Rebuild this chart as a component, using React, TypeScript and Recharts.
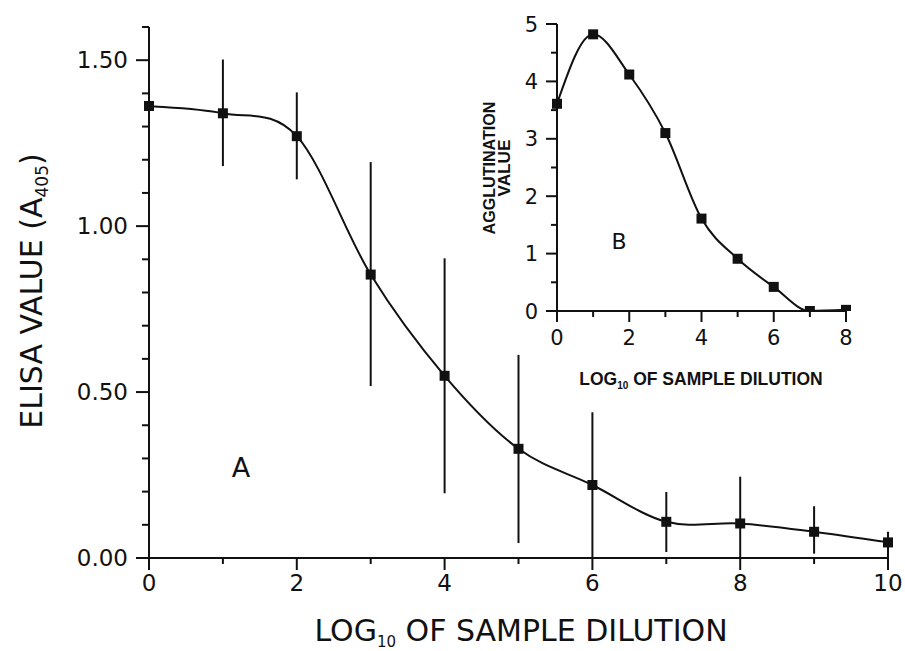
import { LineChart, Line, XAxis, YAxis, ErrorBar } from "recharts";

// panel A: ELISA value vs log10 dilution (mean with error range)
const dilutionA = [0, 1, 2, 3, 4, 5, 6, 7, 8, 9, 10];
const elisaMean = [1.362, 1.34, 1.271, 0.854, 0.549, 0.329, 0.22, 0.109, 0.104, 0.079, 0.047];
const elisaHigh = [1.362, 1.502, 1.403, 1.193, 0.903, 0.612, 0.439, 0.199, 0.245, 0.156, 0.079];
const elisaLow = [1.362, 1.181, 1.141, 0.518, 0.195, 0.045, 0.0, 0.018, 0.0, 0.013, 0.0];
const elisaTicks = [0, 0.1, 0.2, 0.3, 0.4, 0.5, 0.6, 0.7, 0.8, 0.9, 1.0, 1.1, 1.2, 1.3, 1.4, 1.5, 1.6];
const elisaLabels = ["0.00", "0.50", "1.00", "1.50"];
const dilutionTicksA = [0, 1, 2, 3, 4, 5, 6, 7, 8, 9, 10];

// panel B (inset): agglutination value
const dilutionB = [0, 1, 2, 3, 4, 5, 6, 7, 8];
const agglutination = [3.61, 4.82, 4.12, 3.1, 1.61, 0.91, 0.42, 0.0, 0.02];
const agglTicks = [0, 0.5, 1, 1.5, 2, 2.5, 3, 3.5, 4, 4.5, 5];
const dilutionTicksB = [0, 1, 2, 3, 4, 5, 6, 7, 8];

const INK = "#111";
const TICK_FONT = "'DejaVu Sans', sans-serif";

const dataA = dilutionA.map((x, i) => ({
  x,
  elisa: elisaMean[i],
  err: [elisaMean[i] - elisaLow[i], elisaHigh[i] - elisaMean[i]],
}));
const dataB = dilutionB.map((x, i) => ({ x, aggl: agglutination[i] }));

// catmull-rom style smoothing, closer to the old plotting package than "natural"
function smoothCurve(context: any) {
  let pts: number[][] = [];
  return {
    areaStart() {},
    areaEnd() {},
    lineStart() {
      pts = [];
    },
    point(x: number, y: number) {
      pts.push([+x, +y]);
    },
    lineEnd() {
      const n = pts.length;
      if (!n) return;
      context.moveTo(pts[0][0], pts[0][1]);
      for (let i = 0; i < n - 1; i++) {
        const p0 = pts[Math.max(i - 1, 0)];
        const p1 = pts[i];
        const p2 = pts[i + 1];
        const p3 = pts[Math.min(i + 2, n - 1)];
        context.bezierCurveTo(
          p1[0] + (p2[0] - p0[0]) / 6,
          p1[1] + (p2[1] - p0[1]) / 6,
          p2[0] - (p3[0] - p1[0]) / 6,
          p2[1] - (p3[1] - p1[1]) / 6,
          p2[0],
          p2[1]
        );
      }
    },
  };
}

const square = (size: number) => (p: any) => (
  <rect
    key={`sq-${p.index}`}
    x={p.cx - size / 2}
    y={p.cy - size / 2}
    width={size}
    height={size}
    fill={INK}
  />
);

function makeYTick(opts: {
  label: (v: number) => string | null;
  majorLen: number;
  minorLen: number;
  gap: number;
  fontSize: number;
}) {
  return (props: any) => {
    const { x, y, payload } = props;
    const txt = opts.label(payload.value);
    const len = txt !== null ? opts.majorLen : opts.minorLen;
    return (
      <g>
        <line x1={x - len} x2={x} y1={y} y2={y} stroke={INK} strokeWidth={2} />
        {txt !== null && (
          <text
            x={x - opts.gap}
            y={y}
            dy="0.36em"
            textAnchor="end"
            fontSize={opts.fontSize}
            fontFamily={TICK_FONT}
            fill={INK}
          >
            {txt}
          </text>
        )}
      </g>
    );
  };
}

function makeXTick(opts: { majorLen: number; minorLen: number; gap: number; fontSize: number }) {
  return (props: any) => {
    const { x, y, payload } = props;
    const major = payload.value % 2 === 0;
    return (
      <g>
        <line
          x1={x}
          x2={x}
          y1={y}
          y2={y + (major ? opts.majorLen : opts.minorLen)}
          stroke={INK}
          strokeWidth={2}
        />
        {major && (
          <text
            x={x}
            y={y + opts.gap}
            dy="0.36em"
            textAnchor="middle"
            fontSize={opts.fontSize}
            fontFamily={TICK_FONT}
            fill={INK}
          >
            {payload.value}
          </text>
        )}
      </g>
    );
  };
}

const elisaTick = makeYTick({
  label: (v) => {
    const s = v.toFixed(2);
    return elisaLabels.includes(s) ? s : null;
  },
  majorLen: 13,
  minorLen: 7,
  gap: 21,
  fontSize: 23,
});
const dilutionTickA = makeXTick({ majorLen: 12, minorLen: 6, gap: 25, fontSize: 23 });
const agglTick = makeYTick({
  label: (v) => (Number.isInteger(v) ? String(v) : null),
  majorLen: 11,
  minorLen: 6,
  gap: 19,
  fontSize: 21,
});
const dilutionTickB = makeXTick({ majorLen: 11, minorLen: 6, gap: 26, fontSize: 21 });

export default function App() {
  const axisLine = { stroke: INK, strokeWidth: 2 };
  return (
    <div style={{ position: "absolute", left: 0, top: 0, width: 905, height: 651, background: "#fff" }}>
      <div style={{ position: "absolute", left: 0, top: 0 }}>
        <LineChart width={905} height={651} data={dataA} margin={{ top: 27, right: 17, bottom: 0, left: 0 }}>
          <XAxis
            dataKey="x"
            type="number"
            domain={[0, 10]}
            ticks={dilutionTicksA}
            interval={0}
            height={93}
            axisLine={axisLine}
            tickLine={false}
            tickSize={0}
            tickMargin={0}
            tick={dilutionTickA}
          />
          <YAxis
            type="number"
            domain={[0, 1.6]}
            ticks={elisaTicks}
            interval={0}
            width={149}
            allowDataOverflow
            axisLine={axisLine}
            tickLine={false}
            tickSize={0}
            tickMargin={0}
            tick={elisaTick}
          />
          <Line
            dataKey="elisa"
            type={smoothCurve as any}
            stroke={INK}
            strokeWidth={2}
            dot={square(10)}
            activeDot={false}
            isAnimationActive={false}
          >
            <ErrorBar dataKey="err" width={0} stroke={INK} strokeWidth={2} direction="y" isAnimationActive={false} />
          </Line>
        </LineChart>
      </div>

      <div style={{ position: "absolute", left: 450, top: 0 }}>
        <LineChart width={455} height={400} data={dataB} margin={{ top: 24, right: 59, bottom: 0, left: 0 }}>
          <XAxis
            dataKey="x"
            type="number"
            domain={[0, 8]}
            ticks={dilutionTicksB}
            interval={0}
            height={89}
            axisLine={axisLine}
            tickLine={false}
            tickSize={0}
            tickMargin={0}
            tick={dilutionTickB}
          />
          <YAxis
            type="number"
            domain={[0, 5]}
            ticks={agglTicks}
            interval={0}
            width={107}
            allowDataOverflow
            axisLine={axisLine}
            tickLine={false}
            tickSize={0}
            tickMargin={0}
            tick={agglTick}
          />
          <Line
            dataKey="aggl"
            type="monotone"
            stroke={INK}
            strokeWidth={2}
            dot={square(10)}
            activeDot={false}
            isAnimationActive={false}
          />
        </LineChart>
      </div>

      {/* titles and panel letters */}
      <svg
        width={905}
        height={651}
        style={{ position: "absolute", left: 0, top: 0, pointerEvents: "none" }}
        fontFamily={TICK_FONT}
        fill={INK}
      >
        <text x={521} y={641} textAnchor="middle" fontSize={30}>
          LOG
          <tspan fontSize={15} dy={6}>10</tspan>
          <tspan dy={-6}> OF SAMPLE DILUTION</tspan>
        </text>
        <text transform="translate(42,291) rotate(-90)" textAnchor="middle" fontSize={30}>
          ELISA VALUE (A
          <tspan fontSize={17} dy={6}>405</tspan>
          <tspan dy={-6}>)</tspan>
        </text>
        <text x={241} y={477} textAnchor="middle" fontSize={27}>A</text>
        <text x={619} y={249} textAnchor="middle" fontSize={22}>B</text>

        <g fontFamily="'Liberation Sans', Arial, sans-serif" fontWeight={700}>
          <text x={701} y={385} textAnchor="middle" fontSize={17.5}>
            LOG
            <tspan fontSize={10} dy={4}>10</tspan>
            <tspan dy={-4}> OF SAMPLE DILUTION</tspan>
          </text>
          <text
            transform="translate(495,168) rotate(-90)"
            textAnchor="middle"
            fontSize={17}
            textLength={133}
            lengthAdjust="spacingAndGlyphs"
          >
            AGGLUTINATION
          </text>
          <text
            transform="translate(510,168) rotate(-90)"
            textAnchor="middle"
            fontSize={17}
            textLength={57}
            lengthAdjust="spacingAndGlyphs"
          >
            VALUE
          </text>
        </g>
      </svg>
    </div>
  );
}
